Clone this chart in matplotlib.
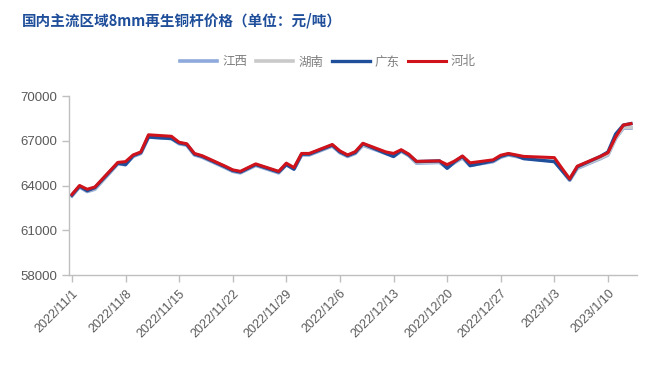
import matplotlib
matplotlib.use('Agg')
import matplotlib.pyplot as plt
import pandas as pd

plt.rcParams['font.family'] = ['Liberation Sans', 'Noto Sans CJK SC', 'DejaVu Sans']

# trading days (weekends and the New Year holiday are missing)
dates = ['2022-11-01', '2022-11-02', '2022-11-03', '2022-11-04', '2022-11-07',
         '2022-11-08', '2022-11-09', '2022-11-10', '2022-11-11', '2022-11-14',
         '2022-11-15', '2022-11-16', '2022-11-17', '2022-11-18', '2022-11-21',
         '2022-11-22', '2022-11-23', '2022-11-24', '2022-11-25', '2022-11-28',
         '2022-11-29', '2022-11-30', '2022-12-01', '2022-12-02', '2022-12-05',
         '2022-12-06', '2022-12-07', '2022-12-08', '2022-12-09', '2022-12-12',
         '2022-12-13', '2022-12-14', '2022-12-15', '2022-12-16', '2022-12-19',
         '2022-12-20', '2022-12-21', '2022-12-22', '2022-12-23', '2022-12-26',
         '2022-12-27', '2022-12-28', '2022-12-29', '2022-12-30', '2023-01-03',
         '2023-01-04', '2023-01-05', '2023-01-06', '2023-01-09', '2023-01-10',
         '2023-01-11', '2023-01-12', '2023-01-13']

jiangxi = [63300, 63900, 63600, 63750, 65450, 65400, 65950, 66150, 67250, 67150,
           66800, 66700, 66050, 65900, 65200, 64950, 64850, 65100, 65350, 64850,
           65400, 65100, 66050, 66050, 66650, 66200, 65950, 66150, 66700, 66150,
           65950, 66300, 66000, 65500, 65550, 65200, 65550, 65850, 65350, 65600,
           65900, 66050, 65950, 65850, 65650, 65000, 64350, 65150, 65800, 66050,
           67150, 67850, 67850]
hunan = [63350, 63950, 63650, 63800, 65500, 65450, 66000, 66200, 67300, 67200,
         66850, 66750, 66100, 65950, 65250, 65000, 64900, 65150, 65400, 64900,
         65450, 65150, 66100, 66100, 66700, 66250, 66000, 66200, 66750, 66200,
         66050, 66350, 66050, 65550, 65600, 65250, 65600, 65900, 65400, 65650,
         65950, 66100, 66000, 65900, 65700, 65050, 64400, 65200, 65850, 66100,
         67200, 67900, 67900]
guangdong = [63350, 63950, 63650, 63850, 65500, 65400, 66000, 66200, 67250, 67150,
             66850, 66750, 66100, 65950, 65250, 65000, 64900, 65150, 65400, 64900,
             65400, 65100, 66100, 66100, 66700, 66250, 66000, 66200, 66800, 66150,
             65950, 66350, 66050, 65600, 65650, 65150, 65600, 65950, 65330, 65650,
             65950, 66100, 66000, 65800, 65600, 65000, 64400, 65250, 65950, 66250,
             67450, 68050, 68150]
hebei = [63400, 64000, 63750, 63900, 65550, 65600, 66050, 66250, 67400, 67300,
         66900, 66800, 66150, 66000, 65300, 65050, 64950, 65200, 65450, 64950,
         65500, 65200, 66150, 66150, 66750, 66320, 66050, 66270, 66830, 66250,
         66150, 66400, 66100, 65620, 65650, 65400, 65650, 65980, 65520, 65720,
         66030, 66150, 66050, 65950, 65870, 65150, 64450, 65300, 65950, 66200,
         67250, 68050, 68150]

series = ['江西', '湖南', '广东', '河北']
values = [jiangxi, hunan, guangdong, hebei]
colors = ['#8EA9DB', '#C9C9C9', '#1F4E9A', '#D0121B']
widths = [2.6, 2.6, 2.4, 2.2]

yticks = [58000, 61000, 64000, 67000, 70000]
xlabels = ['2022/11/1', '2022/11/8', '2022/11/15', '2022/11/22', '2022/11/29',
           '2022/12/6', '2022/12/13', '2022/12/20', '2022/12/27', '2023/1/3',
           '2023/1/10']

x = pd.to_datetime(dates)

fig = plt.figure(figsize=(6.53, 3.69), dpi=100)
ax = fig.add_axes([0.1057, 0.2547, 0.8698, 0.4851])

for name, vals, c, lw in zip(series, values, colors, widths):
    ax.plot(x, vals, color=c, lw=lw, label=name, solid_joinstyle='round')

ax.set_ylim(58000, 70000)
ax.set_yticks(yticks)
ax.set_yticklabels([str(v) for v in yticks], fontsize=9.5, color='#595959')

start = pd.Timestamp('2022-11-01')
ax.set_xlim(start - pd.Timedelta(hours=9), pd.Timestamp('2023-01-13') + pd.Timedelta(hours=19))
tick_pos = pd.date_range(start, periods=len(xlabels), freq='7D')
ax.set_xticks(tick_pos)
ax.set_xticklabels(xlabels, rotation=45, ha='right', rotation_mode='anchor',
                   fontsize=9, color='#595959')

for s in ['top', 'right']:
    ax.spines[s].set_visible(False)
for s in ['left', 'bottom']:
    ax.spines[s].set_color('#BFBFBF')
    ax.spines[s].set_linewidth(1)
ax.tick_params(axis='both', color='#BFBFBF', length=5, width=1)
ax.tick_params(axis='x', pad=4)

fig.text(0.033, 0.945, '国内主流区域8mm再生铜杆价格（单位：元/吨）',
         fontsize=10.5, fontweight='bold', color='#1F4E9A',
         family=['Noto Sans CJK SC', 'DejaVu Sans'], va='center', ha='left')

leg = fig.legend(loc='center', bbox_to_anchor=(0.502, 0.832), ncol=4, frameon=False,
                 handlelength=3.0, handletextpad=0.4, columnspacing=0.7,
                 prop={'family': 'Noto Sans CJK SC', 'size': 9})
for t in leg.get_texts():
    t.set_color('#7F7F7F')

fig.savefig('out.png', dpi=100)
